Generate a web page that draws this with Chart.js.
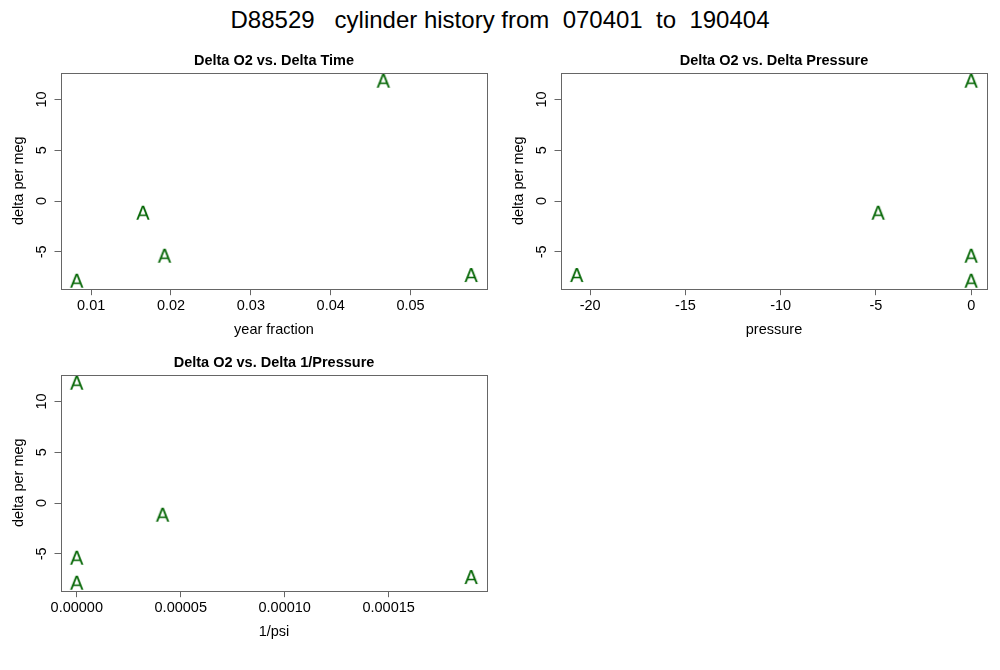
<!DOCTYPE html>
<html>
<head>
<meta charset="utf-8">
<script src="https://cdn.jsdelivr.net/npm/chart.js@4.4.1/dist/chart.umd.min.js"></script>
<style>
  body { margin: 0; background: #fff; }
  #wrap { position: relative; width: 1000px; height: 670px; overflow: hidden; }
  #mainTitle {
    position: absolute; left: 0; top: 7.7px; width: 1000px; text-align: center;
    font: 24px "Liberation Sans", Arial, sans-serif; line-height: 24px; color: #000;
    white-space: pre;
  }
  canvas { position: absolute; }
</style>
</head>
<body>
<div id="wrap">
  <div id="mainTitle">D88529   cylinder history from  070401  to  190404</div>
  <canvas id="timePlot" width="500" height="300" style="left:0;top:40px"></canvas>
  <canvas id="pressurePlot" width="500" height="300" style="left:500px;top:40px"></canvas>
  <canvas id="invPressurePlot" width="500" height="300" style="left:0;top:341.6px"></canvas>
</div>
<script>
// the five cylinder deltas, same order in every panel
var deltaO2 = [-7.84, -1.15, -5.38, 11.84, -7.28];
var yearFraction = [0.0082, 0.0165, 0.0192, 0.0466, 0.0576];
var deltaPressure = [0, -4.88, 0, 0, -20.7];
var deltaInvPressure = [0, 0.0000413, 0, 0, 0.0001897];

// tick positions and labels as R drew them
var o2Ticks = [-5, 0, 5, 10];
var o2TickLabels = ['-5', '0', '5', '10'];
var timeTicks = [0.01, 0.02, 0.03, 0.04, 0.05];
var timeTickLabels = ['0.01', '0.02', '0.03', '0.04', '0.05'];
var pressureTicks = [-20, -15, -10, -5, 0];
var pressureTickLabels = ['-20', '-15', '-10', '-5', '0'];
var invPressureTicks = [0, 0.00005, 0.0001, 0.00015];
var invPressureTickLabels = ['0.00000', '0.00005', '0.00010', '0.00015'];

var fontFamily = '"Liberation Sans", Arial, Helvetica, sans-serif';
var axisGray = '#666';
var pointGreen = '#006400';

// R pads the data range by 4% on each side
function rLimits(values) {
  var lo = Math.min.apply(null, values), hi = Math.max.apply(null, values);
  var pad = (hi - lo) * 0.04;
  return {min: lo - pad, max: hi + pad};
}

// a little canvas with the plotting letter, ink centred on the point
function letterPoint(ch, size, color) {
  var c = document.createElement('canvas');
  c.width = 30; c.height = 30;
  var g = c.getContext('2d');
  g.font = size + 'px ' + fontFamily;
  g.fillStyle = color;
  g.textAlign = 'center';
  g.textBaseline = 'alphabetic';
  var m = g.measureText(ch);
  g.fillText(ch, 15, 15 + (m.actualBoundingBoxAscent - m.actualBoundingBoxDescent) / 2);
  return c;
}
var letterA = letterPoint('A', 20, pointGreen);

// box around the plot region, like box() in R
var boxPlugin = {
  id: 'rbox',
  afterDraw: function (chart) {
    var a = chart.chartArea, ctx = chart.ctx;
    ctx.save();
    ctx.strokeStyle = axisGray;
    ctx.lineWidth = 1;
    ctx.strokeRect(Math.round(a.left) + 0.5, Math.round(a.top) + 0.5,
      Math.round(a.right - a.left), Math.round(a.bottom - a.top));
    ctx.restore();
  }
};

function scatterPanel(canvasId, title, xs, xTicks, xLabels, xTitle) {
  var xLim = rLimits(xs), yLim = rLimits(deltaO2);
  var pts = xs.map(function (x, i) { return {x: x, y: deltaO2[i]}; });
  return new Chart(document.getElementById(canvasId), {
    type: 'scatter',
    data: {datasets: [{data: pts, pointStyle: letterA, pointRadius: 10, clip: false}]},
    options: {
      responsive: false,
      animation: false,
      layout: {padding: {left: 0, right: 13, top: 0, bottom: 0}},
      plugins: {
        legend: {display: false},
        tooltip: {enabled: false},
        title: {
          display: true, text: title, color: '#000', fullSize: false,
          font: {family: fontFamily, size: 14.5, weight: 'bold', lineHeight: 1.2},
          padding: {top: 12.7, bottom: 2.6}
        }
      },
      scales: {
        x: {
          type: 'linear', position: 'bottom', min: xLim.min, max: xLim.max,
          afterBuildTicks: function (s) { s.ticks = xTicks.map(function (v) { return {value: v}; }); },
          afterFit: function (s) { s.height = 51.3; },
          grid: {drawOnChartArea: false, drawTicks: true, tickLength: 6.5, color: axisGray},
          border: {display: false},
          ticks: {
            color: '#000', padding: 1.6, maxRotation: 0, autoSkip: false,
            font: {family: fontFamily, size: 14.5},
            callback: function (v, i) { return xLabels[i]; }
          },
          title: {
            display: true, text: xTitle, color: '#000',
            font: {family: fontFamily, size: 14.5},
            padding: {top: 0, bottom: 1.8}
          }
        },
        y: {
          type: 'linear', position: 'left', min: yLim.min, max: yLim.max,
          afterBuildTicks: function (s) { s.ticks = o2Ticks.map(function (v) { return {value: v}; }); },
          afterFit: function (s) { s.width = 61; },
          grid: {drawOnChartArea: false, drawTicks: true, tickLength: 6.5, color: axisGray},
          border: {display: false},
          ticks: {
            color: '#000', padding: 4.7, minRotation: 90, maxRotation: 90,
            crossAlign: 'center', autoSkip: false,
            font: {family: fontFamily, size: 14.5},
            callback: function (v, i) { return o2TickLabels[i]; }
          },
          title: {
            display: true, text: 'delta per meg', color: '#000',
            font: {family: fontFamily, size: 14.5},
            padding: {top: 10.3, bottom: 0}
          }
        }
      }
    },
    plugins: [boxPlugin]
  });
}

scatterPanel('timePlot', 'Delta O2 vs. Delta Time', yearFraction, timeTicks, timeTickLabels, 'year fraction');
scatterPanel('pressurePlot', 'Delta O2 vs. Delta Pressure', deltaPressure, pressureTicks, pressureTickLabels, 'pressure');
scatterPanel('invPressurePlot', 'Delta O2 vs. Delta 1/Pressure', deltaInvPressure, invPressureTicks, invPressureTickLabels, '1/psi');
</script>
</body>
</html>
